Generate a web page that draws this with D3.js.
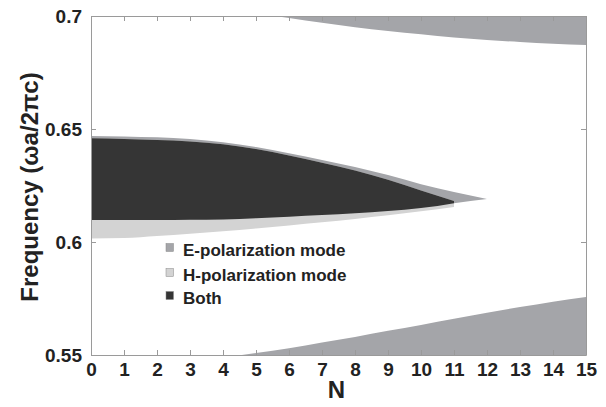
<!DOCTYPE html>
<html>
<head>
<meta charset="utf-8">
<script src="https://cdn.jsdelivr.net/npm/d3@7"></script>
<style>
  html, body { margin: 0; padding: 0; background: #fff; }
  svg { display: block; }
  text { font-family: "Liberation Sans", Arial, sans-serif; font-weight: bold; fill: #222; }
</style>
</head>
<body>
<svg id="chart" width="606" height="407"></svg>
<script>
// Number of periods N (x axis)
const nAll = [0, 1, 2, 3, 4, 5, 6, 7, 8, 9, 10, 11, 12, 13, 14, 15];

// E-polarization gap (closes at N = 12)
const eGapN      = [0, 1, 2, 3, 4, 5, 6, 7, 8, 9, 10, 11, 12];
const eGapTop    = [0.6469, 0.6467, 0.6463, 0.6456, 0.6441, 0.6420, 0.6393, 0.6363, 0.6332, 0.6296, 0.6256, 0.6221, 0.6190];
const eGapBottom = [0.6097, 0.6097, 0.6097, 0.6098, 0.6100, 0.6105, 0.6112, 0.6119, 0.6127, 0.6137, 0.6150, 0.6172, 0.6190];

// H-polarization gap (up to N = 11)
const hGapN      = [0, 1, 2, 3, 4, 5, 6, 7, 8, 9, 10, 11];
const hGapTop    = [0.6459, 0.6456, 0.6451, 0.6445, 0.6432, 0.6411, 0.6383, 0.6351, 0.6316, 0.6275, 0.6228, 0.6181];
const hGapBottom = [0.6016, 0.6018, 0.6027, 0.6037, 0.6048, 0.6060, 0.6073, 0.6087, 0.6102, 0.6118, 0.6136, 0.6155];

// Upper E-polarization mode band (lower edge; upper edge beyond the plot)
const eUpperN    = [5, 6, 7, 8, 9, 10, 11, 12, 13, 14, 15];
const eUpperLow  = [0.7012, 0.6991, 0.6970, 0.6950, 0.6934, 0.6919, 0.6905, 0.6894, 0.6885, 0.6877, 0.6872];
const eUpperHigh = [0.72, 0.72, 0.72, 0.72, 0.72, 0.72, 0.72, 0.72, 0.72, 0.72, 0.72];

// Lower E-polarization mode band (upper edge; lower edge beyond the plot)
const eLowerN    = [4, 5, 6, 7, 8, 9, 10, 11, 12, 13, 14, 15];
const eLowerHigh = [0.5488, 0.5509, 0.5530, 0.5555, 0.5580, 0.5607, 0.5633, 0.5660, 0.5687, 0.5712, 0.5736, 0.5757];
const eLowerLow  = [0.53, 0.53, 0.53, 0.53, 0.53, 0.53, 0.53, 0.53, 0.53, 0.53, 0.53, 0.53];

const yTicks = [0.55, 0.6, 0.65, 0.7];
const yTickLabels = ["0.55", "0.6", "0.65", "0.7"];

const legendLabels = ["E-polarization mode", "H-polarization mode", "Both"];
const colors = { e: "#a4a5a9", h: "#d3d3d3", both: "#353535" };

const svg = d3.select("#chart");
const plotLeft = 91, plotRight = 586, plotTop = 16, plotBottom = 355;

const x = d3.scaleLinear().domain([0, 15]).range([plotLeft, plotRight]);
const y = d3.scaleLinear().domain([0.55, 0.7]).range([plotBottom, plotTop]);

svg.append("defs").append("clipPath").attr("id", "plotClip")
  .append("rect").attr("x", plotLeft).attr("y", plotTop)
  .attr("width", plotRight - plotLeft).attr("height", plotBottom - plotTop);

const plot = svg.append("g").attr("clip-path", "url(#plotClip)");

function band(ns, lo, hi) {
  return ns.map((n, i) => ({ n, lo: lo[i], hi: hi[i] }));
}
const area = d3.area()
  .x(d => x(d.n))
  .y0(d => y(d.lo))
  .y1(d => y(d.hi))
  .curve(d3.curveMonotoneX);

// Region common to both gaps: overlap of the two intervals
const bothData = hGapN.map((n, i) => {
  const j = eGapN.indexOf(n);
  return { n, lo: Math.max(eGapBottom[j], hGapBottom[i]), hi: Math.min(eGapTop[j], hGapTop[i]) };
});

plot.append("path").datum(band(eUpperN, eUpperLow, eUpperHigh)).attr("d", area).attr("fill", colors.e);
plot.append("path").datum(band(eLowerN, eLowerLow, eLowerHigh)).attr("d", area).attr("fill", colors.e);
plot.append("path").datum(band(eGapN, eGapBottom, eGapTop)).attr("d", area).attr("fill", colors.e);
plot.append("path").datum(band(hGapN, hGapBottom, hGapTop)).attr("d", area).attr("fill", colors.h);
plot.append("path").datum(bothData).attr("d", area).attr("fill", colors.both);

// Axes box with inward ticks on all sides
const axisColor = "#9a9a9a";
const tickLen = 5;
const axes = svg.append("g");

function styleLabels(g) {
  g.selectAll("text").attr("font-size", 19)
    .attr("font-family", "Liberation Sans, Arial, sans-serif")
    .attr("font-weight", "bold").attr("fill", "#222");
}
function styleLines(g) {
  g.select(".domain").attr("stroke", axisColor);
  g.selectAll(".tick line").attr("stroke", axisColor);
}

axes.append("g").attr("transform", `translate(0,${plotBottom})`)
  .call(d3.axisBottom(x).tickValues(nAll).tickFormat(d3.format("d")).tickSizeInner(-tickLen).tickSizeOuter(0).tickPadding(8))
  .call(styleLines).call(styleLabels);

axes.append("g").attr("transform", `translate(0,${plotTop})`)
  .call(d3.axisTop(x).tickValues(nAll).tickFormat("").tickSizeInner(-tickLen).tickSizeOuter(0))
  .call(styleLines);

axes.append("g").attr("transform", `translate(${plotLeft},0)`)
  .call(d3.axisLeft(y).tickValues(yTicks).tickFormat((d, i) => yTickLabels[i]).tickSizeInner(-tickLen).tickSizeOuter(0).tickPadding(9))
  .call(styleLines).call(styleLabels);

axes.append("g").attr("transform", `translate(${plotRight},0)`)
  .call(d3.axisRight(y).tickValues(yTicks).tickFormat("").tickSizeInner(-tickLen).tickSizeOuter(0))
  .call(styleLines);

// Axis titles
svg.append("text")
  .attr("x", (plotLeft + plotRight) / 2 - 2).attr("y", 398)
  .attr("text-anchor", "middle").attr("font-size", 24)
  .text("N");

svg.append("text")
  .attr("transform", "translate(38,187) rotate(-90)")
  .attr("text-anchor", "middle").attr("font-size", 24)
  .text("Frequency (ωa/2πc)");

// Legend
const legendColors = [colors.e, colors.h, colors.both];
const legendRowsY = [256, 281, 304];
const legend = svg.append("g");
legendLabels.forEach((lab, i) => {
  legend.append("rect")
    .attr("x", 166).attr("y", legendRowsY[i] - 12.5)
    .attr("width", 7.5).attr("height", 8)
    .attr("fill", legendColors[i]).attr("stroke", "#888").attr("stroke-width", 0.5);
  legend.append("text")
    .attr("x", 183).attr("y", legendRowsY[i])
    .attr("font-size", 17)
    .text(lab);
});
</script>
</body>
</html>
